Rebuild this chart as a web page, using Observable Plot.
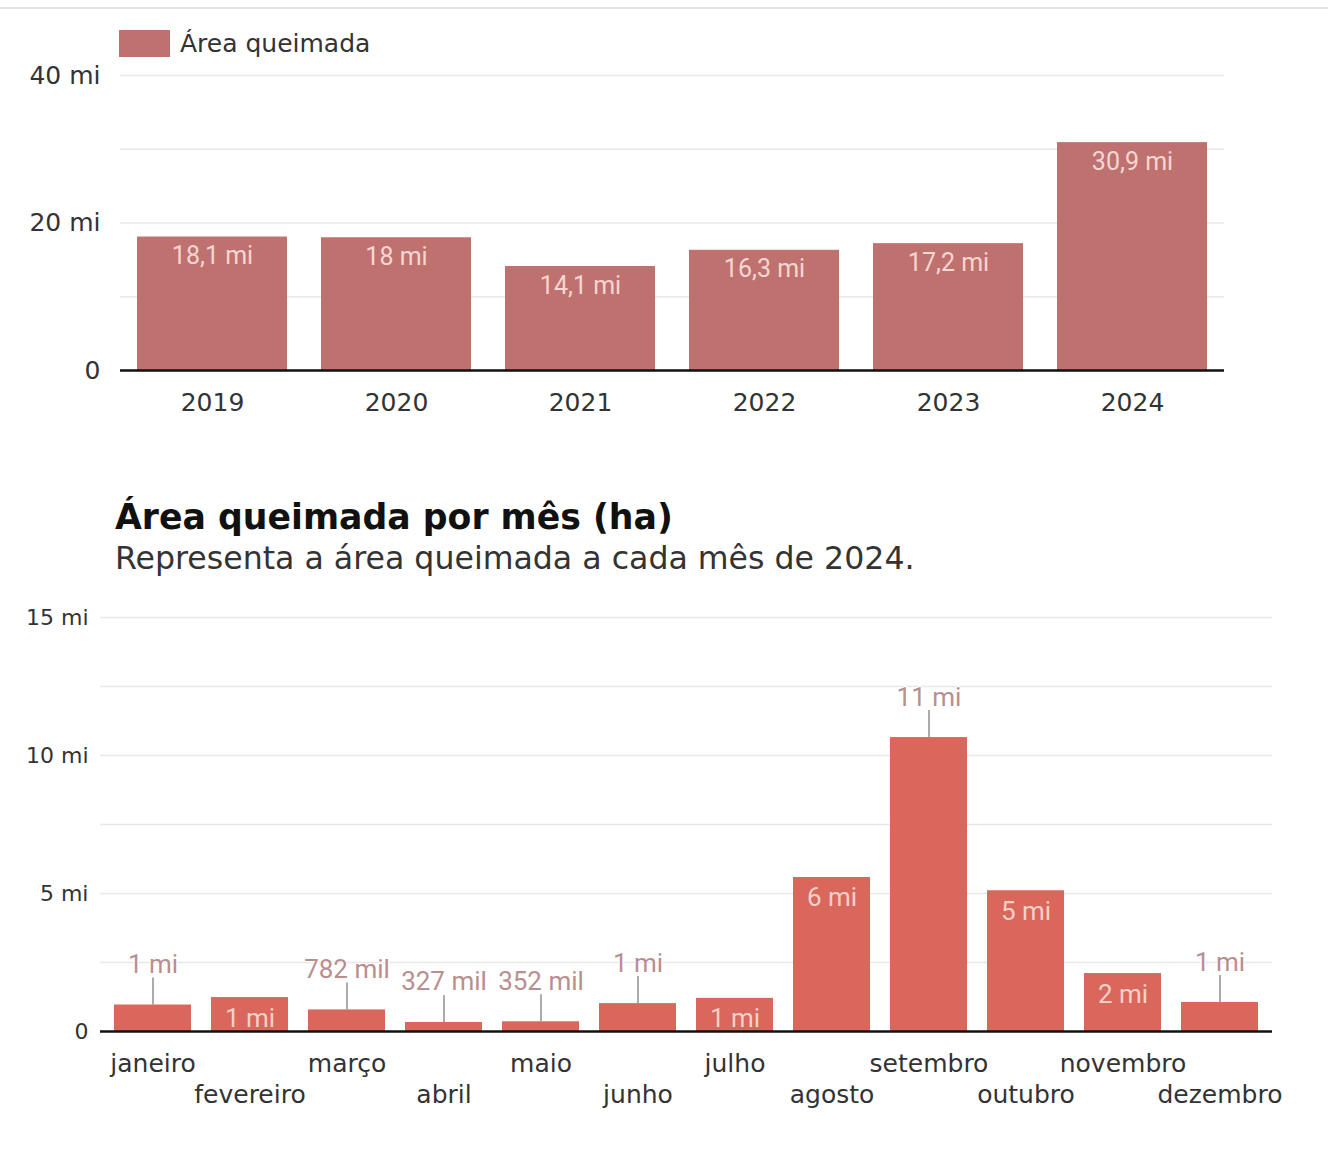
<!DOCTYPE html>
<html>
<head>
<meta charset="utf-8">
<script src="https://cdn.jsdelivr.net/npm/d3@7"></script>
<script src="https://cdn.jsdelivr.net/npm/@observablehq/plot@0.6"></script>
<style>
  body { margin: 0; background: #fff; }
  #root { position: relative; width: 1328px; height: 1150px; overflow: hidden; font-family: "DejaVu Sans", sans-serif; color: #333; }
  .abs { position: absolute; white-space: nowrap; }
  #topline { left: 0; top: 7px; width: 1328px; height: 2px; background: #e4e4e4; }
  #swatch { left: 119px; top: 30px; width: 51px; height: 27px; background: #bf7170; }
  #legtext { left: 180px; top: 31px; font-size: 25px; line-height: 25px; color: #333; }
  #title { left: 115px; top: 500px; font-size: 34.7px; line-height: 34.7px; font-weight: bold; color: #111; }
  #subtitle { left: 115px; top: 543px; font-size: 31.6px; line-height: 31.6px; color: #333; }
  #chart1 { left: 0; top: 50px; }
  #chart2 { left: 0; top: 590px; }
</style>
</head>
<body>
<div id="root">
  <div id="topline" class="abs"></div>
  <div id="swatch" class="abs"></div>
  <div id="legtext" class="abs">Área queimada</div>
  <div id="chart1" class="abs"></div>
  <div id="title" class="abs">Área queimada por mês (ha)</div>
  <div id="subtitle" class="abs">Representa a área queimada a cada mês de 2024.</div>
  <div id="chart2" class="abs"></div>
</div>
<script>
// ---- Annual data (millions of hectares) ----
const years = ["2019", "2020", "2021", "2022", "2023", "2024"];
const yearValues = [18.1, 18.0, 14.1, 16.3, 17.2, 30.9];
const yearLabels = ["18,1 mi", "18 mi", "14,1 mi", "16,3 mi", "17,2 mi", "30,9 mi"];
const yearTicks = [0, 20, 40];
const yearGrid = [10, 20, 30, 40];

// ---- Monthly 2024 data (millions of hectares) ----
const months = ["janeiro", "fevereiro", "março", "abril", "maio", "junho", "julho", "agosto", "setembro", "outubro", "novembro", "dezembro"];
const monthValues = [0.96, 1.23, 0.782, 0.327, 0.352, 1.01, 1.2, 5.58, 10.65, 5.1, 2.1, 1.05];
const monthLabels = ["1 mi", "1 mi", "782 mil", "327 mil", "352 mil", "1 mi", "1 mi", "6 mi", "11 mi", "5 mi", "2 mi", "1 mi"];
const monthInside = [false, true, false, false, false, false, true, true, false, true, true, false];
const monthTicks = [0, 5, 10, 15];
const monthGrid = [2.5, 5, 7.5, 10, 12.5, 15];

const annual = years.map((year, i) => ({year, value: yearValues[i], label: yearLabels[i]}));
const monthly = months.map((month, i) => ({month, value: monthValues[i], label: monthLabels[i], inside: monthInside[i]}));
const miFormat = d => d === 0 ? "0" : d + " mi";

const chart1 = Plot.plot({
  width: 1328, height: 380,
  marginTop: 25, marginBottom: 60, marginLeft: 120, marginRight: 104,
  style: {fontFamily: "DejaVu Sans", background: "transparent", overflow: "visible", color: "#333"},
  x: {domain: years, paddingInner: 0.185, paddingOuter: 0.0925, axis: null, label: null},
  y: {domain: [0, 40], axis: null, label: null},
  marks: [
    Plot.gridY(yearGrid, {stroke: "#e8e8e8", strokeOpacity: 1, strokeWidth: 1.5}),
    Plot.barY(annual, {x: "year", y: "value", fill: "#bf7170"}),
    Plot.ruleY([0], {stroke: "#111", strokeWidth: 2.5}),
    Plot.text(annual, {x: "year", y: "value", text: "label", lineAnchor: "bottom", dy: 27, fill: "#f6d6d2", fontSize: 25, fontFamily: "Roboto"}),
    Plot.axisY(yearTicks, {label: null, tickSize: 0, tickPadding: 20, fontSize: 25, fill: "#333", tickFormat: miFormat}),
    Plot.axisX(years, {label: null, tickSize: 0, tickPadding: 23, fontSize: 25, fill: "#333"})
  ]
});
document.getElementById("chart1").appendChild(chart1);

const oddMonths = months.filter((d, i) => i % 2 === 0);
const evenMonths = months.filter((d, i) => i % 2 === 1);

const chart2 = Plot.plot({
  width: 1328, height: 540,
  marginTop: 27, marginBottom: 99, marginLeft: 100, marginRight: 56,
  style: {fontFamily: "DejaVu Sans", background: "transparent", overflow: "visible", color: "#333"},
  x: {domain: months, paddingInner: 0.21, paddingOuter: 0.105, axis: null, label: null},
  y: {domain: [0, 15], axis: null, label: null},
  marks: [
    Plot.gridY(monthGrid, {stroke: "#e8e8e8", strokeOpacity: 1, strokeWidth: 1.5}),
    Plot.barY(monthly, {x: "month", y: "value", fill: "#d9675c"}),
    Plot.ruleY([0], {stroke: "#111", strokeWidth: 2.5}),
    Plot.ruleX(monthly.filter(d => !d.inside), {x: "month", y1: "value", y2: "value", insetTop: 0, insetBottom: 27, stroke: "#8f8f8f", strokeWidth: 1.5}),
    Plot.text(monthly.filter(d => !d.inside), {x: "month", y: "value", text: "label", lineAnchor: "bottom", dy: -32, fill: "#b98e8e", fontSize: 26, fontFamily: "Roboto", stroke: "white", strokeWidth: 2, paintOrder: "stroke"}),
    Plot.text(monthly.filter(d => d.inside), {x: "month", y: "value", text: "label", lineAnchor: "bottom", dy: 29, fill: "#f8d0c9", fontSize: 26, fontFamily: "Roboto"}),
    Plot.axisY(monthTicks, {label: null, tickSize: 0, tickPadding: 12, fontSize: 22, fill: "#333", tickFormat: miFormat}),
    Plot.axisX(oddMonths, {label: null, tickSize: 0, tickPadding: 23, fontSize: 25, fill: "#333"}),
    Plot.axisX(evenMonths, {label: null, tickSize: 0, tickPadding: 54, fontSize: 25, fill: "#333"})
  ]
});
document.getElementById("chart2").appendChild(chart2);
</script>
</body>
</html>
